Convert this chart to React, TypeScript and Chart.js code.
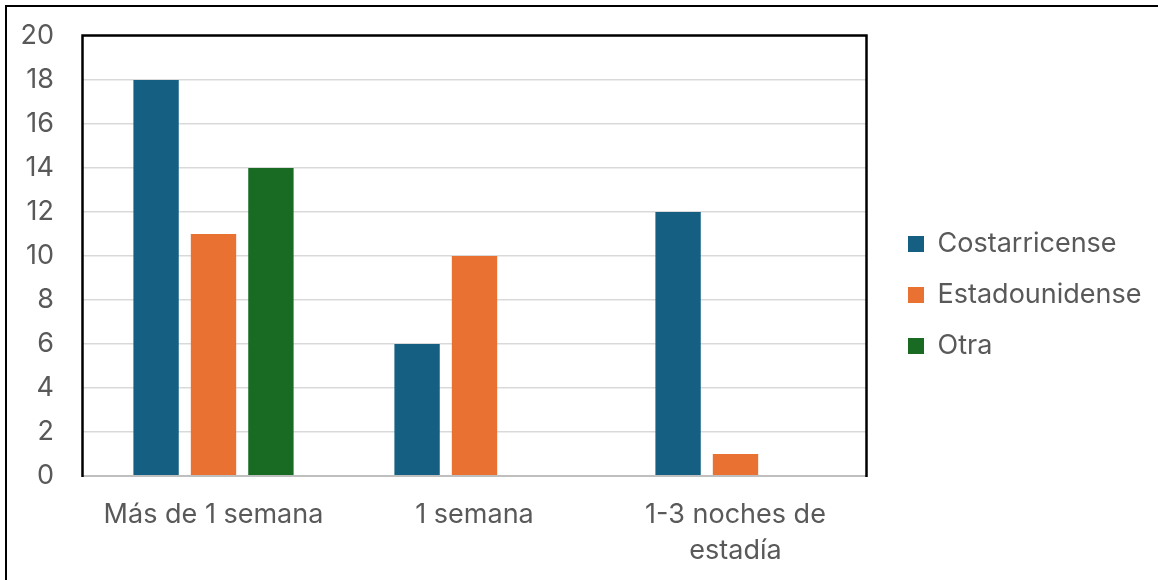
import React, { useEffect, useRef } from "react";
import { Chart, registerables } from "chart.js";

Chart.register(...registerables);

const categories: string[][] = [["Más de 1 semana"], ["1 semana"], ["1-3 noches de", "estadía"]];
const seriesNames = ["Costarricense", "Estadounidense", "Otra"];
const costarricense = [18, 6, 12];
const estadounidense = [11, 10, 1];
const otra = [14, 0, 0];
const yMin = 0;
const yMax = 20;
const yStep = 2;
const seriesColors = ["#156082", "#E97132", "#196B24"];

const FONT = "Inter, 'Open Sans', sans-serif";
const FS = 27;
const LEGEND_PAD = 24;
const PLOT_RIGHT = 866;
const LEGEND_GAP = 18;

const framePlugin = {
  id: "frame",
  afterDatasetsDraw(chart: any) {
    const { ctx, chartArea } = chart;
    const { left, right, top, bottom } = chartArea;
    ctx.save();
    ctx.strokeStyle = "#bfbfbf";
    ctx.lineWidth = 2;
    ctx.beginPath();
    ctx.moveTo(left, bottom);
    ctx.lineTo(right, bottom);
    ctx.stroke();
    ctx.strokeStyle = "#000";
    ctx.lineWidth = 2.5;
    ctx.beginPath();
    ctx.moveTo(left - 0.5, bottom + 1);
    ctx.lineTo(left - 0.5, top - 0.5);
    ctx.lineTo(right + 0.5, top - 0.5);
    ctx.lineTo(right + 0.5, bottom + 1);
    ctx.stroke();
    ctx.restore();
  },
};

// shift the legend a little to the right of the plot area
const legendShiftPlugin = {
  id: "legendShift",
  afterLayout(chart: any) {
    const lg = chart.legend;
    if (!lg) return;
    lg.left += LEGEND_GAP;
    lg.right += LEGEND_GAP;
  },
};

export default function App() {
  const ref = useRef<HTMLCanvasElement | null>(null);
  useEffect(() => {
    if (!ref.current) return;
    const seriesData = [costarricense, estadounidense, otra];

    const mctx = document.createElement("canvas").getContext("2d")!;
    mctx.font = `normal ${FS}px ${FONT}`;
    const maxW = Math.max(...seriesNames.map((n) => mctx.measureText(n).width));
    const legendWidth = LEGEND_PAD + 16 + FS / 2 + maxW + 10;
    const padRight = Math.max(LEGEND_GAP, 1158 - PLOT_RIGHT - legendWidth);

    const chart = new Chart(ref.current, {
      type: "bar",
      data: {
        labels: categories as any,
        datasets: seriesNames.map((name, i) => ({
          label: name,
          data: seriesData[i],
          backgroundColor: seriesColors[i],
          borderWidth: 0,
          categoryPercentage: 0.66,
          barPercentage: 0.79,
          xAxisID: "x",
          yAxisID: "y",
        })),
      },
      options: {
        animation: false,
        responsive: false,
        devicePixelRatio: 1,
        layout: { padding: { top: 28, bottom: 18, left: 0, right: padRight } },
        plugins: {
          tooltip: { enabled: false },
          legend: {
            position: "right",
            labels: {
              boxWidth: 16,
              boxHeight: 16,
              padding: LEGEND_PAD,
              color: "#595959",
              font: { family: FONT, size: FS },
            },
          },
        },
        scales: {
          x: {
            position: "bottom",
            grid: { display: false, drawTicks: false },
            border: { display: false },
            ticks: {
              color: "#595959",
              padding: 21,
              maxRotation: 0,
              autoSkip: false,
              font: { family: FONT, size: FS, lineHeight: 1.333 },
            },
            afterFit: (s: any) => {
              s.height = 86;
            },
          },
          topSpacer: {
            type: "linear",
            position: "top",
            display: true,
            grid: { display: false, drawTicks: false },
            border: { display: false },
            ticks: { display: false },
            afterFit: (s: any) => {
              s.height = 8;
            },
          },
          y: {
            min: yMin,
            max: yMax,
            grid: { color: "#d9d9d9", lineWidth: 1.5, drawTicks: false },
            border: { display: false },
            ticks: {
              stepSize: yStep,
              color: "#595959",
              padding: 29,
              font: { family: FONT, size: FS, lineHeight: 0.5 },
            },
            afterFit: (s: any) => {
              s.width = 83;
            },
          },
        },
      } as any,
      plugins: [framePlugin, legendShiftPlugin],
    });
    return () => chart.destroy();
  }, []);

  return (
    <div
      style={{
        position: "fixed",
        left: 0,
        top: 0,
        width: 1158,
        height: 580,
        overflow: "hidden",
        background: "#fff",
      }}
    >
      <div
        style={{
          position: "absolute",
          left: 5,
          top: 5,
          width: 1300,
          height: 700,
          border: "2.5px solid #000",
        }}
      />
      <canvas ref={ref} width={1158} height={580} style={{ position: "absolute", left: 0, top: 0 }} />
    </div>
  );
}
